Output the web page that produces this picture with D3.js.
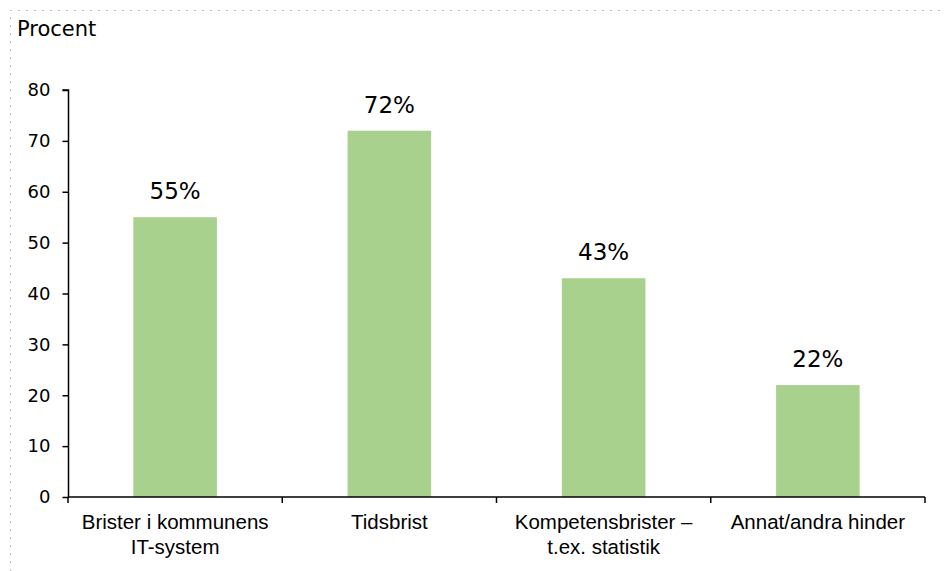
<!DOCTYPE html>
<html><head><meta charset="utf-8">
<script src="https://cdn.jsdelivr.net/npm/d3@7"></script>
<style>body{margin:0;background:#fff}</style>
</head><body>
<svg id="c" width="944" height="571"></svg>
<script>
const categories = [["Brister i kommunens","IT-system"],["Tidsbrist"],["Kompetensbrister –","t.ex. statistik"],["Annat/andra hinder"]];
const values = [55, 72, 43, 22];
const valueLabels = ["55%","72%","43%","22%"];
const yTicks = [0,10,20,30,40,50,60,70,80];

const svg = d3.select("#c");
const L = 68, R = 925, T = 90, B = 497;
// dotted frame
svg.append("path").attr("d","M10.5,571 V10.5 H940")
  .attr("fill","none").attr("stroke","#bbb").attr("stroke-width",1).attr("stroke-dasharray","2,6");

const x = d3.scaleBand().domain(d3.range(categories.length)).range([L,R]).paddingInner(0.61).paddingOuter(0.305);
const xb = d3.scaleBand().domain(d3.range(categories.length)).range([L,R]);
const y = d3.scaleLinear().domain([0,80]).range([B,T]);

svg.append("text").attr("x",17).attr("y",36).text("Procent")
  .attr("font-family","DejaVu Sans, Verdana").attr("font-size",21).attr("fill","#000");

svg.selectAll("rect.bar").data(values).join("rect")
  .attr("x",(d,i)=>x(i)).attr("width",x.bandwidth())
  .attr("y",d=>y(d)).attr("height",d=>B-y(d)).attr("fill","#a9d18e");

svg.selectAll("text.val").data(values).join("text")
  .attr("x",(d,i)=>x(i)+x.bandwidth()/2).attr("y",d=>y(d)-18)
  .attr("text-anchor","middle").attr("font-family","DejaVu Sans, Verdana").attr("font-size",23)
  .text((d,i)=>valueLabels[i]);

const yAxis = d3.axisLeft(y).tickValues(yTicks).tickSize(6).tickPadding(12);
const gy = svg.append("g").attr("transform",`translate(${L+0.5},0)`).call(yAxis);
gy.select(".domain").attr("d",`M-6,${T}H0V${B}`).attr("stroke","#000").attr("stroke-width",1.5);
gy.selectAll(".tick line").attr("stroke","#000").attr("stroke-width",1.5);
gy.selectAll(".tick text").attr("font-family","DejaVu Sans, Verdana").attr("font-size",18).attr("fill","#000");

// x axis line with boundary ticks
const gx = svg.append("g");
gx.append("line").attr("x1",L).attr("x2",R).attr("y1",B).attr("y2",B).attr("stroke","#000").attr("stroke-width",1.5);
const bounds = xb.domain().map(i=>xb(i)).concat([R]);
gx.selectAll("line.t").data(bounds).join("line").attr("class","t")
  .attr("x1",d=>d).attr("x2",d=>d).attr("y1",B).attr("y2",B+6).attr("stroke","#000").attr("stroke-width",1.5);

svg.selectAll("text.cat").data(categories).join("text")
  .attr("text-anchor","middle").attr("font-family","Liberation Sans, Arial").attr("font-size",20.5).attr("fill","#000")
  .each(function(lines,i){
    d3.select(this).selectAll("tspan").data(lines).join("tspan")
      .attr("x",xb(i)+xb.bandwidth()/2).attr("y",(d,j)=>529+j*25).text(d=>d);
  });
</script>
</body></html>
